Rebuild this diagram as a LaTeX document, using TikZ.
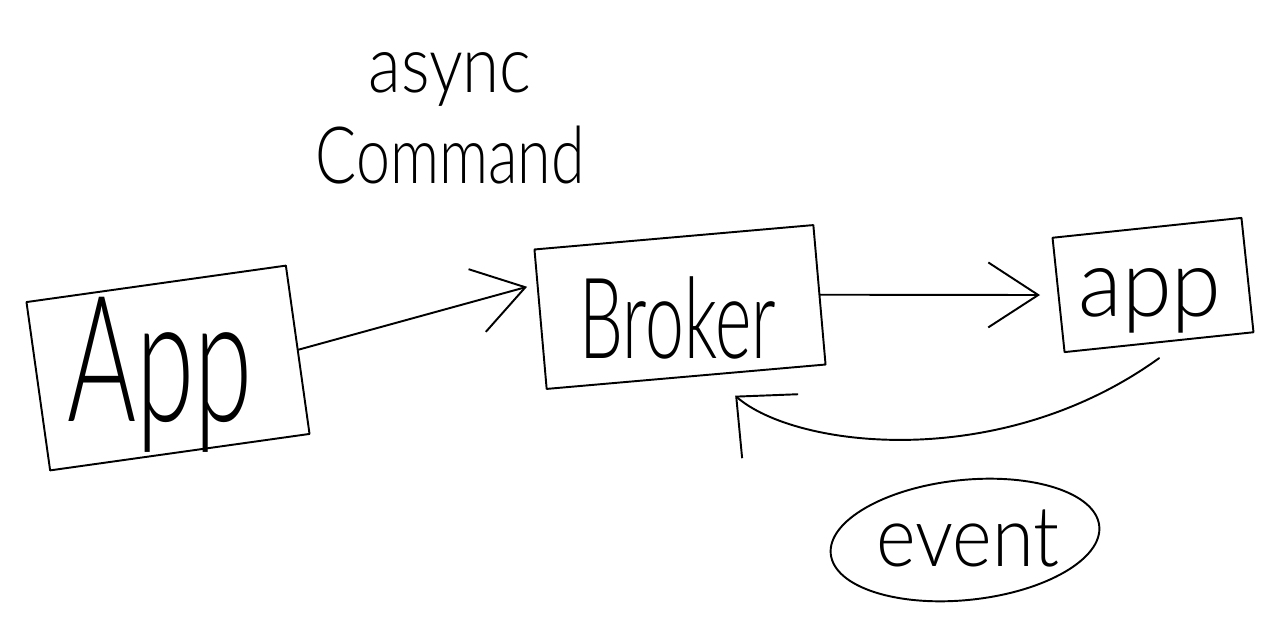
\documentclass[tikz,border=0pt]{standalone}
\usepackage{fontspec}
\setmainfont{Lato}[UprightFont={* Light}]
\usetikzlibrary{arrows.meta,shapes.geometric}
\tikzset{
  sk/.style={line width=1.1pt, draw=black, line cap=round, line join=round},
  box/.style={sk, rectangle, inner sep=0pt},
  barb/.style={sk, -{Straight Barb[length=1cm,width=1.3cm,line width=1.1pt]}},
  hand/.style={inner sep=0pt, text=black}
}
\newcommand{\hwtext}[3]{{\fontsize{#1}{#1}\selectfont\scalebox{#2}[1]{#3}}}
\begin{document}
\begin{tikzpicture}[x=0.02cm,y=0.02cm]
\useasboundingbox[fill=white] (0,0) rectangle (1280,623);
% boxes
\node[box, minimum width=5.24cm, minimum height=3.4cm, rotate=8] (App) at (168,255) {};
\node[box, minimum width=5.6cm, minimum height=2.8cm, rotate=5] (Broker) at (680,316) {};
\node[box, minimum width=3.8cm, minimum height=2.3cm, rotate=6] (app) at (1153,338) {};
\node[sk, ellipse, minimum width=5.4cm, minimum height=2.4cm, rotate=6] (eventell) at (965,83) {};
% labels
\node[hand] (AppL) at (160,248) {\hwtext{100}{0.6}{App}};
\node[hand] (BrokerL) at (678,305) {\hwtext{64}{0.62}{Broker}};
\node[hand] (appL) at (1150,322) {\hwtext{54}{0.95}{app}};
\node[hand] (eventL) at (968,85) {\hwtext{48}{0.9}{event}};
\node[hand, align=center, font={\fontsize{45}{52}\selectfont}] (cmd) at (450,505) {\scalebox{0.85}[1]{async}\\\scalebox{0.77}[1]{Command}};
% connectors
\coordinate (brokerin) at ([xshift=-0.25cm,yshift=0.65cm]Broker.west);
\draw[barb] (App.east) -- (brokerin);
\draw[barb, shorten >=10pt] (Broker.east) -- (app.west);
\coordinate (evtstart) at ([yshift=-0.3cm]app.south);
\coordinate (evtend) at ([xshift=0.98cm,yshift=-0.36cm]Broker.south);
\draw[sk, -{Straight Barb[length=0.9cm,width=1.7cm,line width=1.1pt]}]
  (evtstart) .. controls (1000,150) and (795,175) .. (evtend);
\end{tikzpicture}
\end{document}
